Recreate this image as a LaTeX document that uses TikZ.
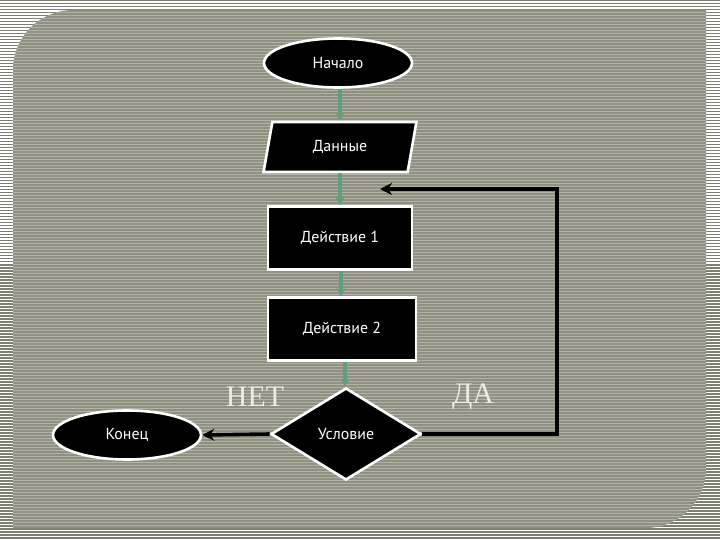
\documentclass[tikz,border=0pt]{standalone}
\usepackage{fontspec}
\setmainfont{PT Sans}
\newfontfamily\serifcyr{Liberation Serif}
\usetikzlibrary{shapes.geometric,arrows.meta}
\definecolor{outerline}{HTML}{7E7F70}
\definecolor{panelfill}{HTML}{8F9081}
\definecolor{panelline}{HTML}{B2B3A4}
\definecolor{greenline}{HTML}{5FA07A}
\definecolor{labelcol}{HTML}{ECECE4}
\tikzset{
  blk/.style={draw=white, line width=2.6bp, fill=black, text=white, font=\fontsize{16}{18}\selectfont, inner sep=0pt},
  termbox/.style={blk, ellipse, minimum width=148bp, minimum height=49bp},
  procbox/.style={blk, rectangle, minimum width=144bp, minimum height=63bp},
  iobox/.style={blk, trapezium, trapezium left angle=75, trapezium right angle=105, trapezium stretches=true, minimum width=153bp, minimum height=50bp},
  decbox/.style={blk, diamond, aspect=1.63, minimum width=150bp, minimum height=92bp},
  flow/.style={greenline, line width=3.6bp, -{Stealth[length=8bp,width=9bp]}},
  back/.style={black, line width=3.6bp, -{Stealth[length=12bp,width=12bp]}},
  yn/.style={text=labelcol, font=\serifcyr\fontsize{30}{32}\selectfont}
}
\begin{document}
\begin{tikzpicture}[x=1bp,y=-1bp]
\useasboundingbox (0,0) rectangle (720,540);
% outer striped background
\fill[white] (0,0) rectangle (720,540);
\foreach \k in {0,...,180} {
  \draw[outerline, line width=1.5bp] (0,{3*\k+0.75}) -- (720,{3*\k+0.75});
}
% panel
\begin{scope}
\path[clip] (13,70) .. controls (13,37) and (40,10) .. (73,10) -- (706,10) -- (706,468) .. controls (706,501) and (679,528) .. (646,528) -- (13,528) -- cycle;
\fill[panelfill] (0,0) rectangle (720,540);
\foreach \k in {0,...,180} {
  \draw[panelline, line width=1.2bp] (0,{3*\k+0.75}) -- (720,{3*\k+0.75});
}
\end{scope}
% nodes
\node[termbox] (start) at (338,63) {Начало};
\node[iobox] (data) at (340,147) {Данные};
\node[procbox] (act1) at (340,238) {Действие 1};
\node[procbox, minimum width=148bp] (act2) at (342,329) {Действие 2};
\node[decbox] (cond) at (346,434) {Условие};
\node[termbox] (end) at (127,435) {Конец};
\node[yn] (no) at (255,397) {НЕТ};
\node[yn] (yes) at (473,397) {ДА};
\coordinate (ret) at (380,189);
% connectors
\draw[flow] (start.south -| 340,0) -- (data.north -| 340,0);
\draw[flow] (data.south -| 340,0) -- (act1.north -| 340,0);
\draw[flow] (act1.south -| 341,0) -- (act2.north -| 341,0);
\draw[flow] (act2.south -| 345,0) -- (cond.north -| 345,0);
\draw[back] (cond.west) -- (end.east);
\draw[back] (cond.east) -- (557,434) -- (557,189) -- (ret);
\end{tikzpicture}
\end{document}
